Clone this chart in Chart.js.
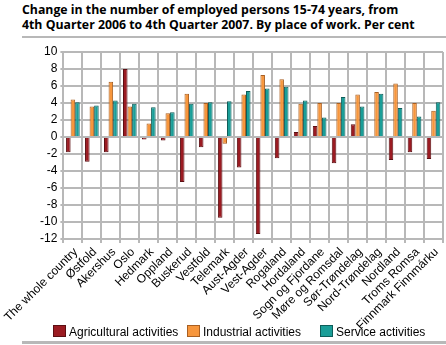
<!DOCTYPE html>
<html>
<head>
<meta charset="utf-8">
<script src="https://cdn.jsdelivr.net/npm/chart.js@4"></script>
<style>
  html, body { margin: 0; padding: 0; background: #fff; }
  #wrap { position: relative; width: 446px; height: 345px; overflow: hidden; }
  #title { position: absolute; left: 22px; top: 2px; font: bold 12.3px "Open Sans", sans-serif; line-height: 15px; color: #000; white-space: nowrap; }
  #topline { position: absolute; left: 22px; top: 36px; width: 424px; height: 2px; background: #b8b8b8; }
  #botline { position: absolute; left: 22px; top: 341px; width: 424px; height: 3px; background: #b8b8b8; }
  canvas { position: absolute; left: 0; top: 0; }
  .leg { position: absolute; top: 325px; font: 12px "Liberation Sans", Arial, sans-serif; color: #000; white-space: nowrap; line-height: 14px; }
  .leg i { display: inline-block; width: 11px; height: 10px; border: 1px solid; vertical-align: -1px; margin-right: 3px; }
</style>
</head>
<body>
<div id="wrap">
  <div id="title">Change in the number of employed persons 15-74 years, from<br>4th Quarter 2006 to 4th Quarter 2007. By place of work. Per cent</div>
  <div id="topline"></div>
  <canvas id="c" width="446" height="345"></canvas>
  <div id="legend"></div>
  <div id="botline"></div>
</div>
<script>
const categories = ["The whole country", "Østfold", "Akershus", "Oslo", "Hedmark", "Oppland", "Buskerud", "Vestfold", "Telemark", "Aust-Agder", "Vest-Agder", "Rogaland", "Hordaland", "Sogn og Fjordane", "Møre og Romsdal", "Sør-Trøndelag", "Nord-Trøndelag", "Nordland", "Troms Romsa", "Finnmark Finnmárku"];
const seriesNames = ["Agricultural activities", "Industrial activities", "Service activities"];
const agricultural = [-1.8, -2.9, -1.8, 8.0, -0.3, -0.4, -5.3, -1.2, -9.5, -3.6, -11.4, -2.5, 0.6, 1.3, -3.1, 1.5, -0.1, -2.7, -1.8, -2.6];
const industrial = [4.4, 3.6, 6.5, 3.6, 1.6, 2.8, 5.1, 4.0, -0.8, 5.0, 7.3, 6.8, 3.9, 4.0, 4.0, 5.0, 5.3, 6.3, 4.0, 3.1];
const service = [4.1, 3.7, 4.3, 3.9, 3.5, 2.9, 3.9, 4.1, 4.2, 5.4, 5.7, 5.9, 4.3, 2.3, 4.7, 3.6, 5.1, 3.4, 2.4, 4.1];
const yMin = -12, yMax = 10, yStep = 2;

const fills = ["#9b1b22", "#f7963c", "#1a9e98"];
const borders = ["#5c0f13", "#a85f22", "#0e5d59"];
const values = [agricultural, industrial, service];

const legendX = [53, 187, 320];
const legendEl = document.getElementById('legend');
seriesNames.forEach((n, i) => {
  const d = document.createElement('div');
  d.className = 'leg';
  d.style.left = legendX[i] + 'px';
  d.innerHTML = '<i style="background:' + fills[i] + ';border-color:' + borders[i] + '"></i>' + n;
  legendEl.appendChild(d);
});

const gridColor = '#b8b8b8';

new Chart(document.getElementById('c'), {
  type: 'bar',
  data: {
    labels: categories,
    datasets: seriesNames.map((n, i) => ({
      label: n,
      data: values[i],
      backgroundColor: fills[i],
      borderColor: borders[i],
      borderWidth: 1,
      categoryPercentage: 0.72,
      barPercentage: 1.0
    }))
  },
  options: {
    responsive: false,
    animation: false,
    devicePixelRatio: 1,
    layout: { padding: { top: 52, right: 3, left: 0, bottom: 0 } },
    plugins: { legend: { display: false }, title: { display: false }, tooltip: { enabled: false } },
    scales: {
      x: {
        offset: true,
        grid: { color: gridColor, lineWidth: 2, offset: true, tickLength: 4 },
        border: { color: gridColor, width: 2 },
        ticks: {
          autoSkip: false, maxRotation: 45, minRotation: 45, padding: 2, labelOffset: 3,
          color: '#000', font: { family: '"Liberation Sans", Arial, sans-serif', size: 12 }
        },
        afterFit: function (s) { s.height = 106; }
      },
      y: {
        min: yMin, max: yMax,
        grid: { color: gridColor, lineWidth: 2, tickLength: 3 },
        border: { color: gridColor, width: 2 },
        ticks: {
          stepSize: yStep, autoSkip: false, padding: 3, color: '#000',
          font: { family: '"Liberation Sans", Arial, sans-serif', size: 12 }
        },
        afterFit: function (s) { s.width = 62; }
      }
    }
  }
});
</script>
</body>
</html>
